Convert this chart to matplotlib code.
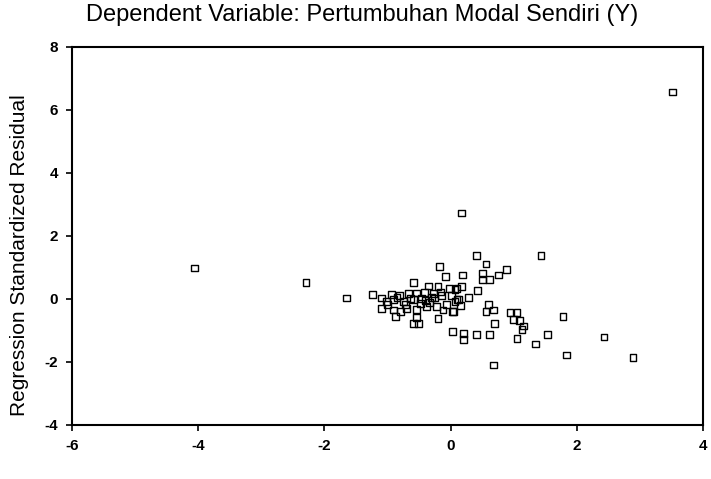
import numpy as np
import matplotlib as mpl
import matplotlib.pyplot as plt

mpl.rcParams['font.family'] = ['Liberation Sans', 'DejaVu Sans']
mpl.rcParams['axes.unicode_minus'] = False

# standardized predicted value (x) and standardized residual (y)
x_pred = [-4.06, -2.29, -1.65, 3.52,
          0.17, 1.43, 0.41, 0.56, 0.89, 0.76, 0.62, 0.51, 0.51, 0.19, 0.17, 0.07, 0.42,
          0.12, 0.03, 0.60, 0.68, 0.56, 0.94, 1.05, 0.99, 1.09, 1.15, 1.13, 1.05, 0.70,
          0.03, 0.21, 0.21, 0.41, 0.61, 0.68, 1.35, 1.53, 1.78, 1.83, 2.43, 2.89,
          -0.18, -0.08, -0.59, -0.35, -0.20, -0.02, 0.10, -1.24, -1.10, -0.94, -0.81,
          -0.67, -0.54, -0.41, -0.27, -0.14, -0.25, 0.02, -1.02, -0.91, -0.75, -0.59,
          -0.46, -0.33, 0.10, -1.10, -0.91, -0.80, -0.70, -0.54, -0.38, -0.22, -0.06,
          0.07, 0.04, -0.87, -0.54, -0.51, -0.59, -0.20, -0.85, -0.63, -0.48, -0.30,
          -0.12, -1.00, -0.72, -0.40, -0.16, 0.15, 0.28]
y_resid = [0.98, 0.51, 0.03, 6.57,
           2.73, 1.37, 1.37, 1.11, 0.94, 0.76, 0.62, 0.82, 0.60, 0.76, 0.39, 0.31, 0.27,
           -0.03, -0.40, -0.19, -0.35, -0.40, -0.43, -0.43, -0.65, -0.69, -0.86, -0.96, -1.25, -0.77,
           -1.04, -1.11, -1.28, -1.14, -1.14, -2.10, -1.43, -1.12, -0.56, -1.78, -1.21, -1.87,
           1.02, 0.70, 0.52, 0.41, 0.39, 0.32, 0.32, 0.13, 0.03, 0.13, 0.10,
           0.18, 0.19, 0.20, 0.18, 0.10, 0.03, 0.10, -0.08, -0.01, -0.08, -0.03,
           0.02, -0.12, -0.03, -0.30, -0.35, -0.40, -0.30, -0.33, -0.24, -0.24, -0.19,
           -0.08, -0.40, -0.56, -0.58, -0.77, -0.77, -0.61, 0.05, 0.00, -0.15, 0.05,
           -0.35, -0.18, -0.18, -0.05, 0.22, -0.22, 0.05]

title = 'Dependent Variable: Pertumbuhan Modal Sendiri (Y)'
ylab = 'Regression Standardized Residual'

fig = plt.figure(figsize=(7.11, 4.79), dpi=100)
ax = fig.add_axes([0.101, 0.113, 0.888, 0.789])

ax.scatter(x_pred, y_resid, marker='s', s=24, facecolors='none',
           edgecolors='black', linewidths=1.0)

ax.set_xlim(-6, 4)
ax.set_ylim(-4, 8)
ax.set_xticks([-6, -4, -2, 0, 2, 4])
ax.set_yticks([-4, -2, 0, 2, 4, 6, 8])
ax.tick_params(direction='out', length=4, width=1.2, labelsize=11)
ax.tick_params(axis='y', pad=6)
ax.tick_params(axis='x', pad=6)
for lab in ax.get_xticklabels() + ax.get_yticklabels():
    lab.set_fontweight('bold')
for sp in ax.spines.values():
    sp.set_linewidth(1.5)

ax.set_ylabel(ylab, fontsize=15)
ax.yaxis.set_label_coords(-0.068, 0.45)
fig.text(0.51, 1 - 21 / 479, title, ha='center', va='baseline', fontsize=17)

fig.savefig('out.png', dpi=100)
